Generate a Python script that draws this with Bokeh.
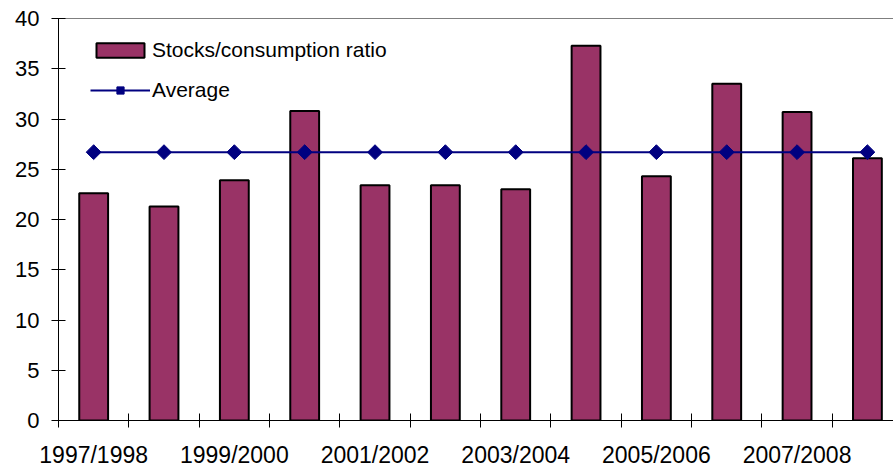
import math
from bokeh.plotting import figure
from bokeh.models import (Range1d, FixedTicker, Legend, LegendItem, Span,
                          ColumnDataSource)
from bokeh.embed import file_html
from bokeh.resources import INLINE

# ---- data ----
seasons = ["1997/1998", "1998/1999", "1999/2000", "2000/2001", "2001/2002",
           "2002/2003", "2003/2004", "2004/2005", "2005/2006", "2006/2007",
           "2007/2008", "2008/2009"]
stocks_ratio = [22.6, 21.3, 23.9, 30.8, 23.4, 23.4, 23.0, 37.3, 24.3, 33.5,
                30.7, 26.1]
average = [26.7, 26.7, 26.7, 26.7, 26.7, 26.7, 26.7, 26.7, 26.7, 26.7,
           26.7, 26.7]
y_ticks = [0, 5, 10, 15, 20, 25, 30, 35, 40]

# ---- styles ----
BAR_COLOR = "#993366"
LINE_COLOR = "#000080"
FONT = "Liberation Sans"

xpos = list(range(1, len(seasons) + 1))
src = ColumnDataSource(dict(x=xpos, ratio=stocks_ratio, avg=average))

p = figure(width=893, height=470, output_backend="svg", toolbar_location=None,
           x_range=Range1d(0.5, 12.371), y_range=Range1d(0, 40),
           min_border_left=58, min_border_right=0, min_border_top=18,
           min_border_bottom=50)
p.outline_line_color = None
p.grid.visible = False
p.background_fill_color = "white"
p.border_fill_color = "white"

bars = p.vbar(x="x", top="ratio", width=0.41, source=src,
              fill_color=BAR_COLOR, line_color="black", line_width=2)
line = p.line(x="x", y="avg", source=src, line_color=LINE_COLOR, line_width=2)
pts = p.scatter(x="x", y="avg", source=src, marker="square", angle=math.pi / 4,
                size=10.5, fill_color=LINE_COLOR, line_color=LINE_COLOR)

# top frame line
p.add_layout(Span(location=40, dimension="width", line_color="black",
                  line_width=1))

# x axis
xa = p.xaxis[0]
xa.ticker = FixedTicker(ticks=xpos[::2],
                        minor_ticks=[k - 0.5 for k in range(1, len(seasons) + 2)])
xa.major_label_overrides = {xpos[i]: seasons[i] for i in range(0, len(seasons), 2)}
xa.major_tick_in = 0
xa.major_tick_out = 0
xa.minor_tick_in = 7
xa.minor_tick_out = 7
xa.minor_tick_line_color = "black"
xa.axis_line_color = "black"
xa.major_label_standoff = 14
xa.major_label_text_font = FONT
xa.major_label_text_font_size = "23px"
xa.major_label_text_color = "black"

# y axis
ya = p.yaxis[0]
ya.ticker = FixedTicker(ticks=y_ticks)
ya.major_tick_in = 7
ya.major_tick_out = 7
ya.minor_tick_line_color = None
ya.axis_line_color = "black"
ya.major_tick_line_color = "black"
ya.major_label_standoff = 12
ya.major_label_text_font = FONT
ya.major_label_text_font_size = "22px"
ya.major_label_text_color = "black"

legend = Legend(items=[LegendItem(label="Stocks/consumption ratio", renderers=[bars]),
                       LegendItem(label="Average", renderers=[line, pts])],
                location=(32, 318), glyph_width=60, glyph_height=18,
                label_height=25, label_standoff=2, spacing=15, padding=0,
                margin=0, border_line_color=None, background_fill_alpha=0,
                label_text_font=FONT, label_text_font_size="21px",
                label_text_color="black")
p.add_layout(legend)

open("out.html", "w").write(file_html(p, INLINE))
